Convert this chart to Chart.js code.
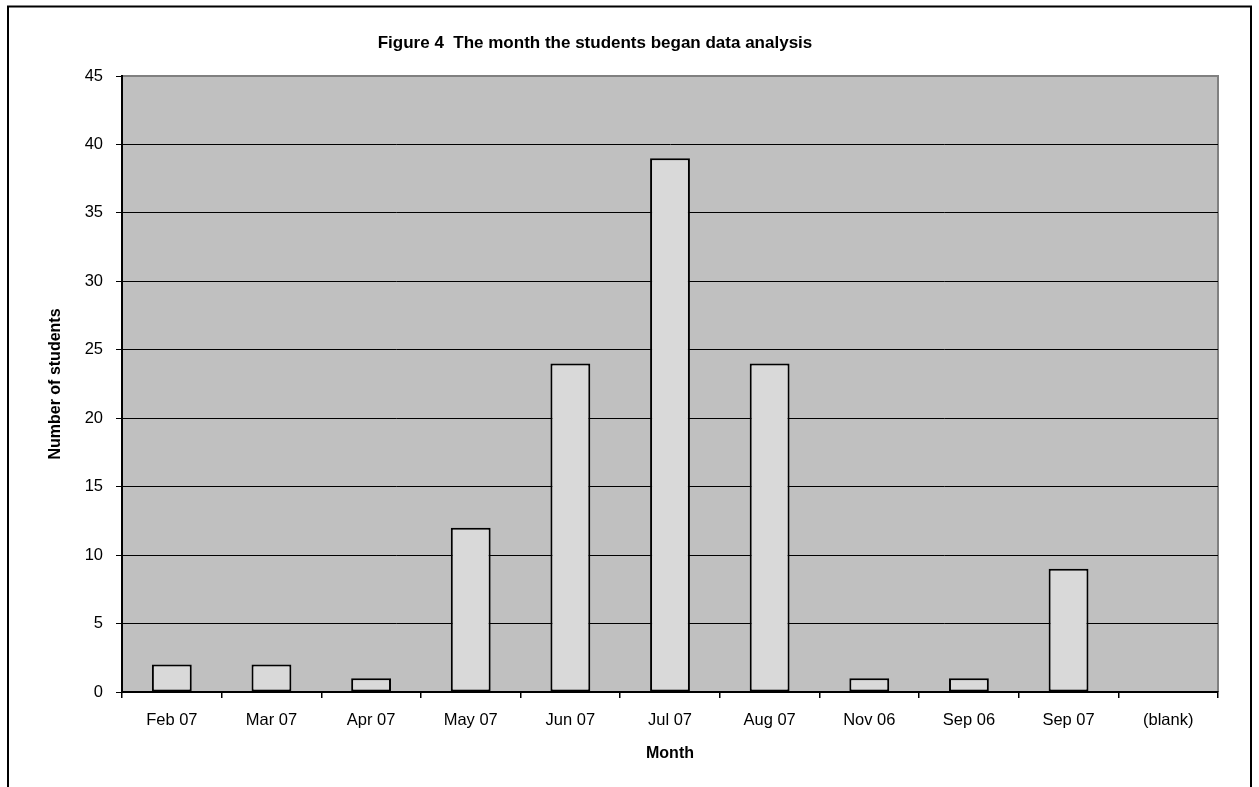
<!DOCTYPE html>
<html>
<head>
<meta charset="utf-8">
<script src="https://cdn.jsdelivr.net/npm/chart.js@4.4.0/dist/chart.umd.min.js"></script>
<style>
html,body{margin:0;padding:0;background:#fff;}
#wrap{width:1259px;height:787px;position:relative;}
</style>
</head>
<body>
<div id="wrap"><canvas id="c" width="1259" height="787"></canvas></div>
<script>
const categories = ["Feb 07","Mar 07","Apr 07","May 07","Jun 07","Jul 07","Aug 07","Nov 06","Sep 06","Sep 07","(blank)"];
const students = [2,2,1,12,24,39,24,1,1,9,0];
const yTicks = [0,5,10,15,20,25,30,35,40,45];
const chartTitle = "Figure 4  The month the students began data analysis";
const xTitle = "Month";
const yTitle = "Number of students";

const FONT = "'Liberation Sans', Arial, sans-serif";

const framePlugin = {
  id: 'frame',
  beforeDraw(chart) {
    const ctx = chart.ctx;
    const a = chart.chartArea;
    ctx.save();
    ctx.fillStyle = '#fff';
    ctx.fillRect(0,0,chart.width,chart.height);
    ctx.strokeStyle = '#000';
    ctx.lineWidth = 2;
    ctx.beginPath();
    ctx.moveTo(8, 800);
    ctx.lineTo(8, 6.5);
    ctx.lineTo(1251, 6.5);
    ctx.lineTo(1251, 800);
    ctx.stroke();
    ctx.fillStyle = '#C0C0C0';
    ctx.fillRect(a.left, a.top, a.right - a.left, a.bottom - a.top);
    ctx.strokeStyle = '#808080';
    ctx.lineWidth = 2;
    ctx.beginPath();
    ctx.moveTo(a.left, a.top);
    ctx.lineTo(a.right, a.top);
    ctx.lineTo(a.right, a.bottom);
    ctx.stroke();
    ctx.fillStyle = '#000';
    ctx.font = "bold 17px " + FONT;
    ctx.textAlign = 'center';
    ctx.textBaseline = 'middle';
    ctx.fillText(chartTitle, 595, 43);
    ctx.restore();
  }
};

new Chart(document.getElementById('c'), {
  type: 'bar',
  data: {
    labels: categories,
    datasets: [{
      data: students,
      backgroundColor: '#D9D9D9',
      borderColor: '#000',
      borderWidth: 2,
      borderSkipped: false,
      categoryPercentage: 1.0,
      barPercentage: 0.4
    }]
  },
  options: {
    responsive: false,
    animation: false,
    devicePixelRatio: 1,
    layout: { padding: { left: 0, top: 76, right: 41, bottom: 0 } },
    plugins: {
      legend: { display: false },
      title: { display: false },
      tooltip: { enabled: false }
    },
    scales: {
      x: {
        offset: true,
        afterFit(s) { s.height = 95; },
        grid: {
          offset: true,
          drawOnChartArea: false,
          drawTicks: true,
          tickLength: 6,
          color: '#000',
          lineWidth: 1.5
        },
        border: { display: true, color: '#000', width: 2 },
        ticks: {
          color: '#000',
          padding: 13,
          font: { family: FONT, size: 16.5 },
          maxRotation: 0,
          autoSkip: false
        },
        title: {
          display: true,
          text: xTitle,
          color: '#000',
          font: { family: FONT, size: 16, weight: 'bold' },
          padding: { top: 0, bottom: 24 }
        }
      },
      y: {
        min: 0,
        max: 45,
        afterFit(s) { s.width = 122; },
        afterBuildTicks(s) { s.ticks = yTicks.map(v => ({ value: v })); },
        grid: {
          color: (c) => (c.tick && c.tick.value === 45) ? 'rgba(0,0,0,0)' : '#000',
          tickColor: '#000',
          lineWidth: 1,
          drawTicks: true,
          tickLength: 6
        },
        border: { display: true, color: '#000', width: 2 },
        ticks: {
          color: '#000',
          padding: 13,
          font: { family: FONT, size: 16.5 }
        },
        title: {
          display: true,
          text: yTitle,
          color: '#000',
          font: { family: FONT, size: 16, weight: 'bold' },
          padding: { top: 46, bottom: 0 }
        }
      }
    }
  },
  plugins: [framePlugin]
});
</script>
</body>
</html>
